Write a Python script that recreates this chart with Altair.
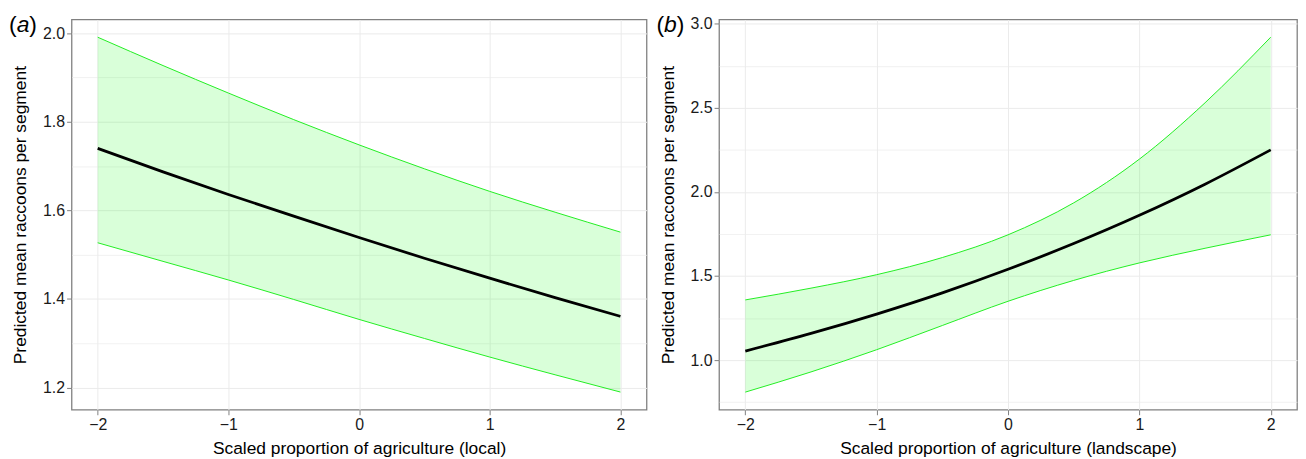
import altair as alt
import pandas as pd

# ---- data ----
x_vals = [-2, -1.5, -1, -0.5, 0, 0.5, 1, 1.5, 2]

a_mean = [1.740, 1.687, 1.636, 1.587, 1.539, 1.492, 1.447, 1.403, 1.361]
a_lower = [1.527, 1.485, 1.443, 1.399, 1.354, 1.311, 1.269, 1.229, 1.190]
a_upper = [1.991, 1.927, 1.865, 1.805, 1.748, 1.694, 1.643, 1.596, 1.551]

b_mean = [1.054, 1.159, 1.274, 1.400, 1.540, 1.693, 1.861, 2.046, 2.250]
b_lower = [0.810, 0.930, 1.062, 1.206, 1.350, 1.474, 1.578, 1.665, 1.745]
b_upper = [1.358, 1.428, 1.508, 1.610, 1.745, 1.935, 2.195, 2.530, 2.920]

x_ticks = [-2, -1.5, -1, -0.5, 0, 0.5, 1, 1.5, 2]
a_y_ticks = [1.2, 1.3, 1.4, 1.5, 1.6, 1.7, 1.8, 1.9, 2.0]
b_y_ticks = [0.75, 1.0, 1.25, 1.5, 1.75, 2.0, 2.25, 2.5, 2.75, 3.0]

x_title_a = "Scaled proportion of agriculture (local)"
x_title_b = "Scaled proportion of agriculture (landscape)"
y_title = "Predicted mean raccoons per segment"

FONT = "Liberation Sans"
BAND_FILL = "#00ff00"
BAND_EDGE = "#22ee22"
GRID = "#ebebeb"


def cond(test, a, b):
    return {"condition": {"test": test, "value": a}, "value": b}


def panel(mean, lower, upper, xtitle, ydomain, yticks, ymul, letter, width):
    df = pd.DataFrame({"x": x_vals, "mean": mean, "lower": lower, "upper": upper})
    xminor = "abs(datum.value - round(datum.value)) > 0.01"
    yminor = f"abs(datum.value*{ymul} - round(datum.value*{ymul})) > 0.01"
    x_enc = alt.X(
        "x:Q",
        scale=alt.Scale(domain=[-2.2, 2.2], nice=False, zero=False),
        axis=alt.Axis(
            values=x_ticks,
            format="d",
            labelExpr=f"{xminor} ? '' : datum.label",
            tickOpacity=cond(xminor, 0, 1),
            gridWidth=cond(xminor, 0.7, 1),
            title=xtitle,
        ),
    )
    y_enc = alt.Y(
        "lower:Q",
        scale=alt.Scale(domain=ydomain, nice=False, zero=False),
        axis=alt.Axis(
            values=yticks,
            format=".1f",
            labelExpr=f"{yminor} ? '' : datum.label",
            tickOpacity=cond(yminor, 0, 1),
            gridWidth=cond(yminor, 0.7, 1),
            title=y_title,
        ),
    )
    base = alt.Chart(df)
    band = base.mark_area(color=BAND_FILL, opacity=0.15, interpolate="monotone").encode(
        x=x_enc, y=y_enc, y2="upper:Q"
    )
    lo = base.mark_line(color=BAND_EDGE, strokeWidth=1, interpolate="monotone").encode(
        x="x:Q", y="lower:Q"
    )
    hi = base.mark_line(color=BAND_EDGE, strokeWidth=1, interpolate="monotone").encode(
        x="x:Q", y="upper:Q"
    )
    mid = base.mark_line(color="black", strokeWidth=2.8, interpolate="monotone").encode(
        x="x:Q", y="mean:Q"
    )
    t1 = alt.Chart(pd.DataFrame({"t": ["("]})).mark_text(
        font=FONT, fontSize=23, align="left", baseline="alphabetic", color="black"
    ).encode(text="t:N", x=alt.value(-63), y=alt.value(13))
    t2 = alt.Chart(pd.DataFrame({"t": [letter]})).mark_text(
        font=FONT, fontSize=23, fontStyle="italic", align="left",
        baseline="alphabetic", color="black"
    ).encode(text="t:N", x=alt.value(-55.3), y=alt.value(13))
    t3 = alt.Chart(pd.DataFrame({"t": [")"]})).mark_text(
        font=FONT, fontSize=23, align="left", baseline="alphabetic", color="black"
    ).encode(text="t:N", x=alt.value(-42.5), y=alt.value(13))
    return alt.layer(band, lo, hi, mid, t1, t2, t3).properties(width=width, height=393)


pa = panel(a_mean, a_lower, a_upper, x_title_a, [1.15, 2.031], a_y_ticks, 5, "a", 579)
pb = panel(b_mean, b_lower, b_upper, x_title_b, [0.705, 3.025], b_y_ticks, 2, "b", 582)

chart = (
    alt.hconcat(pa, pb, spacing=8)
    .properties(padding={"left": 0, "top": 4, "right": 0, "bottom": 0})
    .configure_view(stroke="#808080", strokeWidth=1.3)
    .configure_axis(
        domain=False,
        grid=True,
        gridColor=GRID,
        tickColor="#808080",
        tickSize=5,
        tickWidth=1,
        labelFont=FONT,
        labelFontSize=16,
        labelColor="#1a1a1a",
        labelPadding=2,
        titleFont=FONT,
        titleFontSize=17.5,
        titleFontWeight="normal",
        titleColor="black",
    )
    .configure_axisX(titlePadding=7)
    .configure_axisY(titlePadding=13)
)

chart.save("out.html", embed_options={"renderer": "svg", "actions": False})
